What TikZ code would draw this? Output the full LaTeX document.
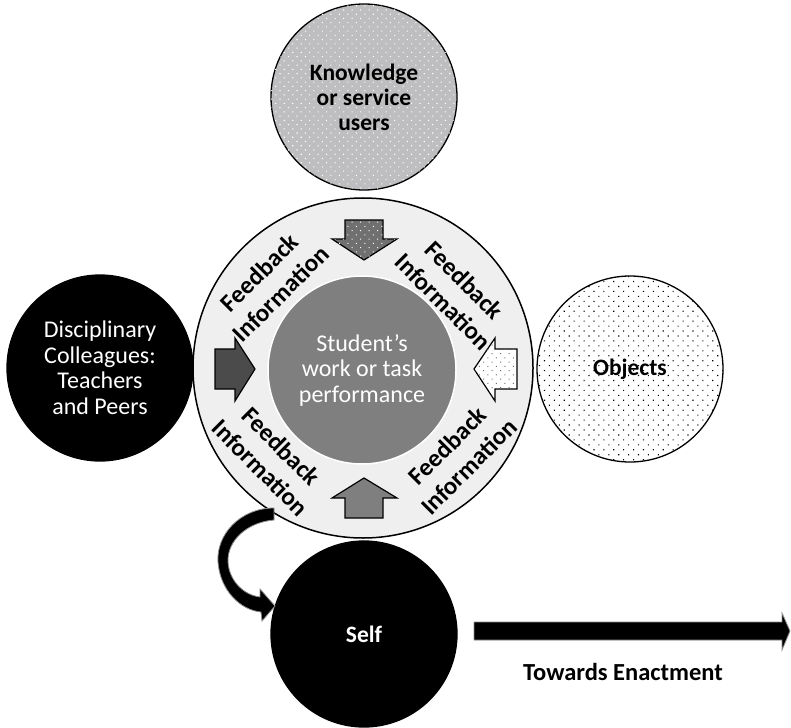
\documentclass[tikz,border=0pt]{standalone}
\usepackage{fontspec}
\setmainfont{Carlito}
\usetikzlibrary{patterns.meta}
\definecolor{ringgray}{RGB}{239,239,239}
\definecolor{coregray}{RGB}{127,127,128}
\definecolor{kgray}{RGB}{190,190,192}
\definecolor{darkarr}{RGB}{75,75,75}
\definecolor{toparr}{RGB}{112,112,112}
\definecolor{dotgray}{RGB}{110,110,110}
\begin{document}
\begin{tikzpicture}[x=1pt,y=-1pt,
  blob/.style={circle, inner sep=0pt, minimum size=186pt, line width=1.3pt, align=center},
  lab/.style={font=\fontsize{24}{25.5}\selectfont, align=center},
  blab/.style={font=\bfseries\fontsize{23.5}{25}\selectfont, align=center},
  fb/.style={font=\bfseries\fontsize{25}{30}\selectfont, align=center, inner sep=0pt},
  blk/.style={line width=1.2pt, draw=black, line join=miter},
  bigarrow/.style={fill=black, draw=black!45, line width=0.8pt, line join=miter}
]
\useasboundingbox (0,0) rectangle (791,727);
% central ring
\node[circle, draw=black, fill=ringgray, line width=1.5pt, minimum size=340pt, inner sep=0pt] (ring) at (363,368) {};
\node[circle, draw=white, line width=1.5pt, fill=coregray, minimum size=188pt, inner sep=0pt, text=white, lab] (core) at (362,370) {Student’s\\work or task\\performance};
% outer circles
\node[blob, draw=black, fill=kgray, postaction={pattern={Dots[distance=6pt,radius=0.75pt,angle=45]}, pattern color=white}, blab] (know) at (364,97) {Knowledge\\or service\\users};
\node[blob, draw=black, fill=black, text=white, lab] (disc) at (100,368) {Disciplinary\\Colleagues:\\Teachers\\and Peers};
\node[blob, draw=black, fill=white, postaction={pattern={Dots[distance=7pt,radius=0.8pt,angle=45]}, pattern color=black}, blab] (obj) at (630,369) {Objects};
\node[blob, draw=black, fill=black, text=white, blab] (self) at (364,634) {Self};
% feedback labels
\node[fb, rotate=45] (fbtl) at (270,283) {Feedback\\Information};
\node[fb, rotate=-45] (fbtr) at (454,291) {Feedback\\Information};
\node[fb, rotate=-45] (fbbl) at (271,457) {Feedback\\Information};
\node[fb, rotate=45] (fbbr) at (458,456) {Feedback\\Information};
% block arrows in ring
\path[blk, fill=toparr, postaction={pattern={Dots[distance=6pt,radius=0.75pt,angle=45]}, pattern color=white}]
  (345,220) -- (383,220) -- (383,239) -- (397,239) -- (364,260) -- (332,239) -- (345,239) -- cycle;
\path[blk, fill=coregray]
  (345,518) -- (383,518) -- (383,498) -- (397,498) -- (364,478) -- (332,498) -- (345,498) -- cycle;
\path[blk, fill=darkarr]
  (215,349) -- (235,349) -- (235,338) -- (255,369) -- (235,401) -- (235,389) -- (215,389) -- cycle;
\path[blk, fill=white, postaction={pattern={Dots[distance=6pt,radius=0.7pt,angle=45]}, pattern color=dotgray}]
  (517,349) -- (495,349) -- (495,338) -- (474,369) -- (495,401) -- (495,389) -- (517,389) -- cycle;
% curved arrow from ring to self
\path[bigarrow]
  (274,508) .. controls (240,508) and (216,535) .. (218,562)
  .. controls (220,590) and (240,610) .. (261,612)
  -- (262,621) -- (275,606) -- (260,589) -- (260,597)
  .. controls (243,595) and (229,580) .. (228,562)
  .. controls (227,540) and (248,522) .. (274,520) -- cycle;
% long arrow
\path[bigarrow]
  (474,622) -- (782,622) -- (782,613) -- (790,631) -- (782,650) -- (782,640) -- (474,640) -- cycle;
\node[font=\bfseries\fontsize{24.5}{26}\selectfont] (enact) at (623,672) {Towards Enactment};
\end{tikzpicture}
\end{document}
